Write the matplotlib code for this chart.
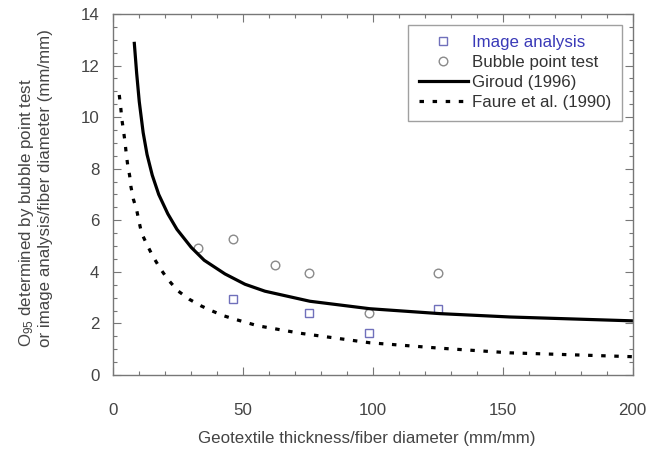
import matplotlib
matplotlib.use("Agg")
import matplotlib.pyplot as plt
from matplotlib.ticker import MultipleLocator

plt.rcParams['font.family'] = ['Liberation Sans', 'DejaVu Sans']
plt.rcParams['mathtext.fontset'] = 'custom'
plt.rcParams['mathtext.rm'] = 'Liberation Sans'
plt.rcParams['mathtext.it'] = 'Liberation Sans'

# measured points
img_x = [46.0, 75.5, 98.5, 125.0]
img_y = [2.94, 2.39, 1.62, 2.55]
bub_x = [32.7, 46.0, 62.3, 75.5, 98.5, 125.0]
bub_y = [4.91, 5.26, 4.27, 3.94, 2.39, 3.94]

# curves
giroud_x = [8.1, 9.0, 10.0, 11.5, 13.0, 15.0, 17.5, 21.0, 24.5, 30.0, 35.0,
            43.0, 50.7, 58.4, 75.7, 98.8, 125.8, 152.7, 200.0]
giroud_y = [12.86, 11.7, 10.6, 9.4, 8.55, 7.75, 7.0, 6.25, 5.65, 4.95, 4.45,
            3.92, 3.52, 3.25, 2.86, 2.57, 2.38, 2.25, 2.1]
faure_x = [2.3, 2.85, 3.25, 3.85, 4.5, 5.0, 5.55, 6.3, 6.8, 7.7, 9.0, 10.0, 10.9,
           12.9, 15.2, 18.0, 21.0, 24.8, 29.2, 33.8, 37.9, 42.4, 46.9, 51.4,
           55.6, 71.9, 98.8, 125.8, 152.7, 200.0]
faure_y = [10.86, 10.40, 9.95, 9.53, 9.05, 8.57, 8.14, 7.73, 7.30, 6.83, 6.40,
           5.91, 5.50, 5.07, 4.61, 4.14, 3.71, 3.27, 2.94, 2.68, 2.49, 2.30,
           2.16, 2.03, 1.91, 1.62, 1.25, 1.04, 0.86, 0.71]

fs = 12.2
grey = '#777777'
txt = '#444444'

fig = plt.figure(figsize=(6.47, 4.51), dpi=100)
ax = fig.add_axes([0.1751, 0.1685, 0.8028, 0.8005])

ax.plot(img_x, img_y, ls='none', marker='s', ms=5.8, mfc='none', mec='#7070bb',
        mew=1.0, label='Image analysis')
ax.plot(bub_x, bub_y, ls='none', marker='o', ms=6.2, mfc='none', mec='#8a8a8a',
        mew=1.0, label='Bubble point test')
ax.plot(giroud_x, giroud_y, color='black', lw=2.3, label='Giroud (1996)')
ax.plot(faure_x, faure_y, color='black', lw=2.3, ls=(0, (1.4, 2.7)),
        label='Faure et al. (1990)')

ax.set_xlim(0, 200)
ax.set_ylim(0, 14)
ax.xaxis.set_major_locator(MultipleLocator(50))
ax.xaxis.set_minor_locator(MultipleLocator(10))
ax.yaxis.set_major_locator(MultipleLocator(2))
ax.yaxis.set_minor_locator(MultipleLocator(0.5))
ax.tick_params(which='both', direction='in', top=True, right=True,
               colors=grey, labelcolor=txt, labelsize=fs)
ax.tick_params(which='major', length=6, width=0.8)
ax.tick_params(which='minor', length=3, width=0.8)
ax.tick_params(axis='x', pad=20)
ax.tick_params(axis='y', pad=10)
for s in ax.spines.values():
    s.set_color(grey)
    s.set_linewidth(1.0)

ax.set_xlabel('Geotextile thickness/fiber diameter (mm/mm)', fontsize=fs,
              color=txt)
ax.xaxis.set_label_coords(0.488, -0.155)
ax.set_ylabel('O$_{95}$ determined by bubble point test\n'
              'or image analysis/fiber diameter (mm/mm)', fontsize=fs,
              color=txt, linespacing=1.15, multialignment='left')
ax.yaxis.set_label_coords(-0.117, 0.518)

leg = ax.legend(loc='upper right', bbox_to_anchor=(0.979, 0.9695), fontsize=fs,
                frameon=True, fancybox=False, handlelength=2.9,
                handletextpad=0.27, borderpad=0.6, labelspacing=0.3,
                borderaxespad=0)
leg.get_frame().set_edgecolor('#888888')
leg.get_frame().set_linewidth(1.0)
leg.get_texts()[0].set_color('#3a3ab8')
for t in leg.get_texts()[1:]:
    t.set_color('#333333')

fig.savefig('out.png', dpi=100)
